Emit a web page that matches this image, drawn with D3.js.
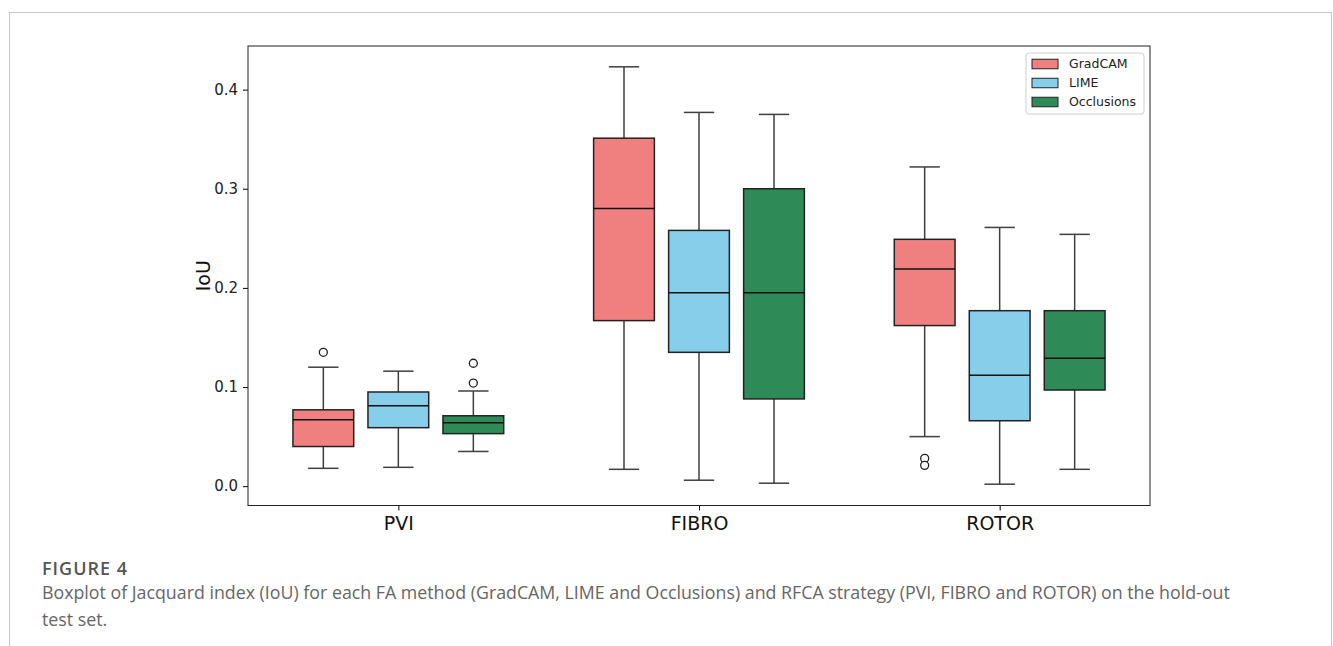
<!DOCTYPE html>
<html>
<head>
<meta charset="utf-8">
<script src="https://cdn.jsdelivr.net/npm/d3@7"></script>
<style>
  body { margin: 0; background: #fff; }
  svg text { font-family: "DejaVu Sans", sans-serif; }
  svg text.caption { font-family: "Open Sans", "Lato", sans-serif; }
</style>
</head>
<body>
<div id="chart"></div>
<script>
const categories = ["PVI", "FIBRO", "ROTOR"];
const methods = ["GradCAM", "LIME", "Occlusions"];
const yTicks = [0.0, 0.1, 0.2, 0.3, 0.4];

// one row per method, one value per category (PVI, FIBRO, ROTOR)
const whiskerLow = [[0.018, 0.017, 0.050], [0.019, 0.006, 0.002], [0.035, 0.003, 0.017]];
const q1 = [[0.040, 0.167, 0.162], [0.059, 0.135, 0.066], [0.053, 0.088, 0.097]];
const median = [[0.067, 0.280, 0.219], [0.081, 0.195, 0.112], [0.064, 0.195, 0.129]];
const q3 = [[0.077, 0.351, 0.249], [0.095, 0.258, 0.177], [0.071, 0.300, 0.177]];
const whiskerHigh = [[0.120, 0.423, 0.322], [0.116, 0.377, 0.261], [0.096, 0.375, 0.254]];
const outliers = [[[0.135], [], [0.028, 0.021]], [[], [], []], [[0.124, 0.104], [], []]];

const width = 1333, height = 646;
const plotLeft = 248, plotRight = 1150, plotTop = 46, plotBottom = 505.5;

const svg = d3.select("#chart").append("svg")
    .attr("width", width)
    .attr("height", height);

// card frame
svg.append("rect")
    .attr("x", 9.5).attr("y", 12.5)
    .attr("width", 1322).attr("height", 700)
    .attr("fill", "none")
    .attr("stroke", "#c8c8c8");

const x = d3.scalePoint().domain(categories).range([plotLeft, plotRight]).padding(0.5);
const hue = d3.scaleBand().domain(methods).range([-112.5, 112.5])
    .paddingInner(0.19).paddingOuter(0.095);
const y = d3.scaleLinear().domain([-0.0195, 0.444]).range([plotBottom, plotTop]);
const color = d3.scaleOrdinal().domain(methods).range(["#F08080", "#87CEEB", "#2E8B57"]);

// build flat list of boxes
const boxes = [];
methods.forEach((m, i) => {
    categories.forEach((c, j) => {
        boxes.push({
            method: m, cat: c,
            lo: whiskerLow[i][j], q1: q1[i][j], med: median[i][j],
            q3: q3[i][j], hi: whiskerHigh[i][j], out: outliers[i][j]
        });
    });
});

const bw = hue.bandwidth();
const capW = bw / 2;
const lineColor = "#3f3f3f";

const g = svg.append("g");
const box = g.selectAll("g.box")
    .data(boxes)
    .enter()
    .append("g")
    .attr("class", "box")
    .attr("transform", d => `translate(${x(d.cat) + hue(d.method) + bw / 2},0)`);

// whiskers
box.append("line")
    .attr("x1", 0).attr("x2", 0)
    .attr("y1", d => y(d.q3)).attr("y2", d => y(d.hi))
    .attr("stroke", lineColor).attr("stroke-width", 1.5);
box.append("line")
    .attr("x1", 0).attr("x2", 0)
    .attr("y1", d => y(d.q1)).attr("y2", d => y(d.lo))
    .attr("stroke", lineColor).attr("stroke-width", 1.5);
// caps
box.append("line")
    .attr("x1", -capW / 2).attr("x2", capW / 2)
    .attr("y1", d => y(d.hi)).attr("y2", d => y(d.hi))
    .attr("stroke", lineColor).attr("stroke-width", 1.5);
box.append("line")
    .attr("x1", -capW / 2).attr("x2", capW / 2)
    .attr("y1", d => y(d.lo)).attr("y2", d => y(d.lo))
    .attr("stroke", lineColor).attr("stroke-width", 1.5);

// boxes
box.append("rect")
    .attr("x", -bw / 2)
    .attr("width", bw)
    .attr("y", d => y(d.q3))
    .attr("height", d => y(d.q1) - y(d.q3))
    .attr("fill", d => color(d.method))
    .attr("stroke", "#222")
    .attr("stroke-width", 1.5);

// medians
box.append("line")
    .attr("x1", -bw / 2).attr("x2", bw / 2)
    .attr("y1", d => y(d.med)).attr("y2", d => y(d.med))
    .attr("stroke", "#111").attr("stroke-width", 1.5);

// outliers
box.selectAll("circle")
    .data(d => d.out)
    .enter()
    .append("circle")
    .attr("cx", 0)
    .attr("cy", v => y(v))
    .attr("r", 4)
    .attr("fill", "white")
    .attr("stroke", "#222")
    .attr("stroke-width", 1.3);

// axes
const yAxis = svg.append("g")
    .attr("transform", `translate(${plotLeft},0)`)
    .call(d3.axisLeft(y).tickValues(yTicks).tickFormat(d3.format(".1f")).tickSize(5).tickPadding(5));
yAxis.select(".domain").remove();
yAxis.selectAll("text").style("font-size", "15px").attr("fill", "#222");

const xAxis = svg.append("g")
    .attr("transform", `translate(0,${plotBottom})`)
    .call(d3.axisBottom(x).tickSize(5).tickPadding(6));
xAxis.select(".domain").remove();
xAxis.selectAll("text").style("font-size", "19px").attr("fill", "#111");

// frame
svg.append("rect")
    .attr("x", plotLeft).attr("y", plotTop)
    .attr("width", plotRight - plotLeft).attr("height", plotBottom - plotTop)
    .attr("fill", "none")
    .attr("stroke", "#222")
    .attr("stroke-width", 1);

// y label
svg.append("text")
    .attr("transform", `translate(210,${(plotTop + plotBottom) / 2}) rotate(-90)`)
    .attr("text-anchor", "middle")
    .style("font-size", "19px")
    .attr("fill", "#111")
    .text("IoU");

// legend
const legend = svg.append("g").attr("transform", "translate(1026,53)");
legend.append("rect")
    .attr("width", 118).attr("height", 61)
    .attr("rx", 3)
    .attr("fill", "white")
    .attr("stroke", "#d0d0d0");
const item = legend.selectAll("g.item")
    .data(methods)
    .enter()
    .append("g")
    .attr("class", "item")
    .attr("transform", (d, i) => `translate(6,${11 + i * 19})`);
item.append("rect")
    .attr("width", 26).attr("height", 9.5).attr("y", -4.75)
    .attr("fill", d => color(d))
    .attr("stroke", "#222").attr("stroke-width", 1);
item.append("text")
    .attr("x", 37)
    .attr("dy", "0.35em")
    .style("font-size", "12.5px")
    .attr("fill", "#222")
    .text(d => d);

// caption
svg.append("text")
    .attr("class", "caption")
    .attr("x", 42).attr("y", 575)
    .style("font-size", "18px")
    .style("font-weight", "600")
    .style("letter-spacing", "1px")
    .attr("fill", "#555")
    .text("FIGURE 4");
svg.append("text")
    .attr("class", "caption")
    .attr("x", 42).attr("y", 599)
    .style("font-size", "17.8px")
    .attr("fill", "#666")
    .text("Boxplot of Jacquard index (IoU) for each FA method (GradCAM, LIME and Occlusions) and RFCA strategy (PVI, FIBRO and ROTOR) on the hold-out");
svg.append("text")
    .attr("class", "caption")
    .attr("x", 42).attr("y", 626)
    .style("font-size", "17.8px")
    .attr("fill", "#666")
    .text("test set.");
</script>
</body>
</html>
